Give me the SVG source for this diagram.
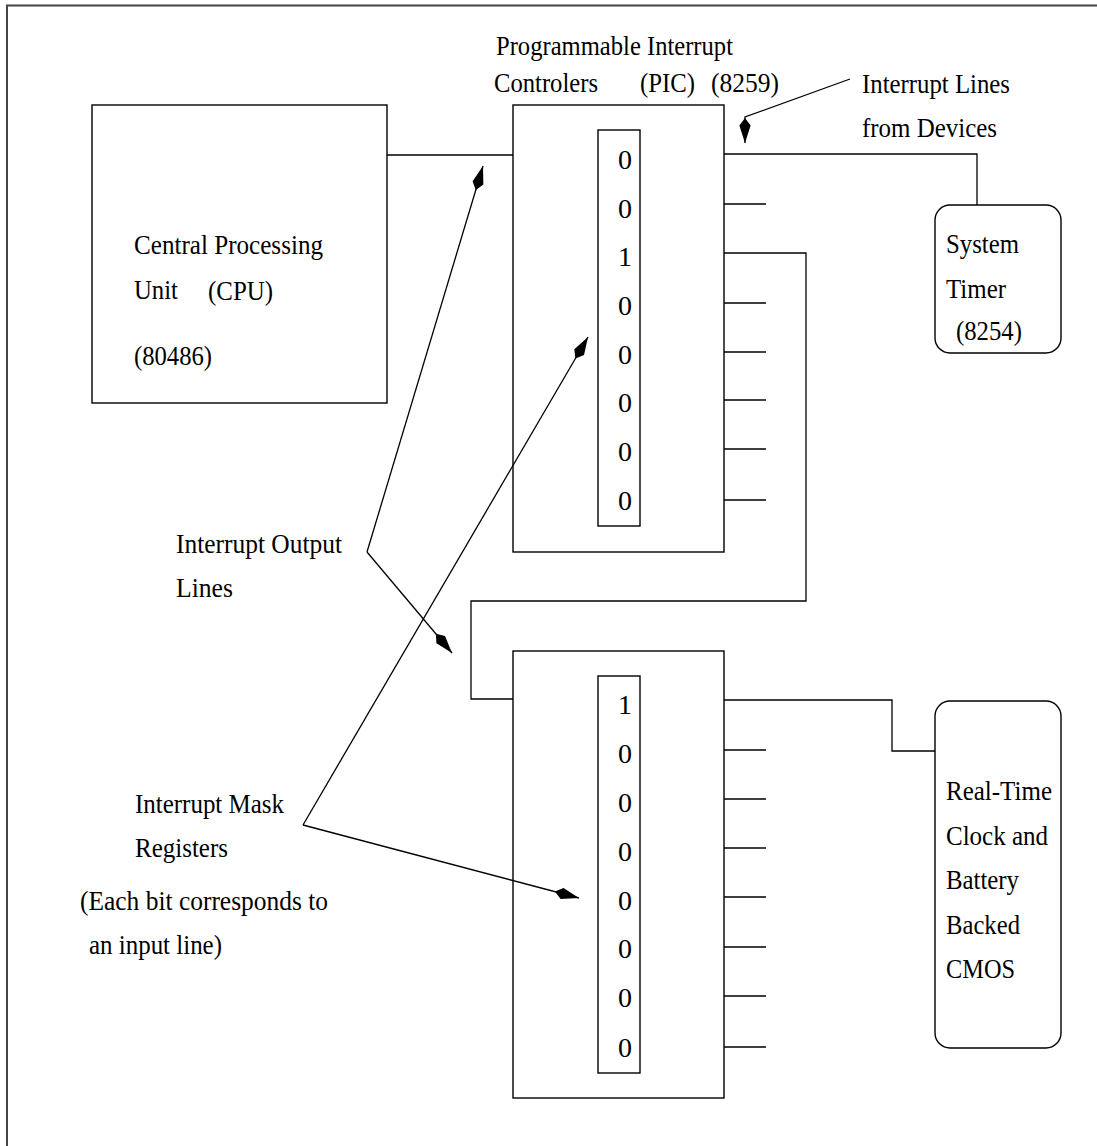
<svg xmlns="http://www.w3.org/2000/svg" width="1097" height="1146" viewBox="0 0 1097 1146">
<style>
text{font-family:"Liberation Serif","Times New Roman",serif;font-size:28px;fill:#000}
.box{fill:none;stroke:#000;stroke-width:1.4}
.ln{fill:none;stroke:#000;stroke-width:1.3}
.frame{fill:none;stroke:#444;stroke-width:2}
</style>
<defs>
<marker id="kite" markerUnits="userSpaceOnUse" markerWidth="30" markerHeight="30" viewBox="-22 -6 24 12" refX="0" refY="0" orient="auto">
<path d="M0,0 L-14,-4.5 L-20,0 L-14,4.5 Z" fill="#000"/>
</marker>
</defs>
<rect width="1097" height="1146" fill="#fff"/>
<path class="frame" d="M7,1146 V5.5 H1097"/>

<g id="cpu">
<rect class="box" x="92" y="105" width="295" height="298"/>
<text x="134" y="254" textLength="189" lengthAdjust="spacingAndGlyphs">Central Processing</text>
<text x="134" y="299" textLength="44" lengthAdjust="spacingAndGlyphs">Unit</text>
<text x="208" y="300" textLength="65" lengthAdjust="spacingAndGlyphs">(CPU)</text>
<text x="134" y="365" textLength="78" lengthAdjust="spacingAndGlyphs">(80486)</text>
</g>

<g id="pic-label">
<text x="496" y="55" textLength="237" lengthAdjust="spacingAndGlyphs">Programmable Interrupt</text>
<text x="494" y="92" textLength="104" lengthAdjust="spacingAndGlyphs">Controlers</text>
<text x="640" y="92" textLength="55" lengthAdjust="spacingAndGlyphs">(PIC)</text>
<text x="711" y="92" textLength="68" lengthAdjust="spacingAndGlyphs">(8259)</text>
</g>

<g id="pic1">
<rect class="box" x="513" y="105" width="211" height="447"/>
<rect class="box" x="598" y="130" width="42" height="396"/>
<text x="618" y="169">0</text>
<text x="618" y="218">0</text>
<text x="618" y="266">1</text>
<text x="618" y="315">0</text>
<text x="618" y="364">0</text>
<text x="618" y="412">0</text>
<text x="618" y="461">0</text>
<text x="618" y="510">0</text>
</g>

<g id="pic2">
<rect class="box" x="513" y="651" width="211" height="447"/>
<rect class="box" x="598" y="676" width="42" height="397"/>
<text x="618" y="714">1</text>
<text x="618" y="763">0</text>
<text x="618" y="812">0</text>
<text x="618" y="861">0</text>
<text x="618" y="910">0</text>
<text x="618" y="958">0</text>
<text x="618" y="1007">0</text>
<text x="618" y="1057">0</text>
</g>

<g id="timer">
<rect class="box" x="935" y="205" width="126" height="148" rx="15" ry="15"/>
<text x="946" y="253" textLength="73" lengthAdjust="spacingAndGlyphs">System</text>
<text x="946" y="298" textLength="60" lengthAdjust="spacingAndGlyphs">Timer</text>
<text x="956" y="340" textLength="66" lengthAdjust="spacingAndGlyphs">(8254)</text>
</g>

<g id="rtc">
<rect class="box" x="935" y="701" width="126" height="347" rx="15" ry="15"/>
<text x="946" y="800" textLength="106" lengthAdjust="spacingAndGlyphs">Real-Time</text>
<text x="946" y="845" textLength="102" lengthAdjust="spacingAndGlyphs">Clock and</text>
<text x="946" y="889" textLength="73" lengthAdjust="spacingAndGlyphs">Battery</text>
<text x="946" y="934" textLength="74" lengthAdjust="spacingAndGlyphs">Backed</text>
<text x="946" y="978" textLength="69" lengthAdjust="spacingAndGlyphs">CMOS</text>
</g>

<g id="label-lines">
<text x="862" y="93" textLength="148" lengthAdjust="spacingAndGlyphs">Interrupt Lines</text>
<text x="862" y="137" textLength="135" lengthAdjust="spacingAndGlyphs">from Devices</text>
</g>

<g id="label-output">
<text x="176" y="553" textLength="166" lengthAdjust="spacingAndGlyphs">Interrupt Output</text>
<text x="176" y="597" textLength="57" lengthAdjust="spacingAndGlyphs">Lines</text>
</g>

<g id="label-mask">
<text x="135" y="813" textLength="149" lengthAdjust="spacingAndGlyphs">Interrupt Mask</text>
<text x="135" y="857" textLength="93" lengthAdjust="spacingAndGlyphs">Registers</text>
<text x="80" y="910" textLength="248" lengthAdjust="spacingAndGlyphs">(Each bit corresponds to</text>
<text x="89" y="954" textLength="133" lengthAdjust="spacingAndGlyphs">an input line)</text>
</g>

<g id="connectors">
<path class="ln" d="M387,155 H513"/>
<path class="ln" d="M724,154 H977 V205"/>
<path class="ln" d="M724,204 H766 M724,303 H766 M724,352 H766 M724,400 H766 M724,449 H766 M724,500 H766"/>
<path class="ln" d="M724,253 H806 V601 H471 V699 H513"/>
<path class="ln" d="M724,700 H892 V751 H935"/>
<path class="ln" d="M724,750 H766 M724,799 H766 M724,848 H766 M724,897 H766 M724,947 H766 M724,996 H766 M724,1047 H766"/>
<path class="ln" d="M850,79 L745,117 V143" marker-end="url(#kite)"/>
<path class="ln" d="M367,552 L483,166" marker-end="url(#kite)"/>
<path class="ln" d="M367,552 L452,653" marker-end="url(#kite)"/>
<path class="ln" d="M303,825 L588,337" marker-end="url(#kite)"/>
<path class="ln" d="M303,825 L579,898" marker-end="url(#kite)"/>
</g>
</svg>
